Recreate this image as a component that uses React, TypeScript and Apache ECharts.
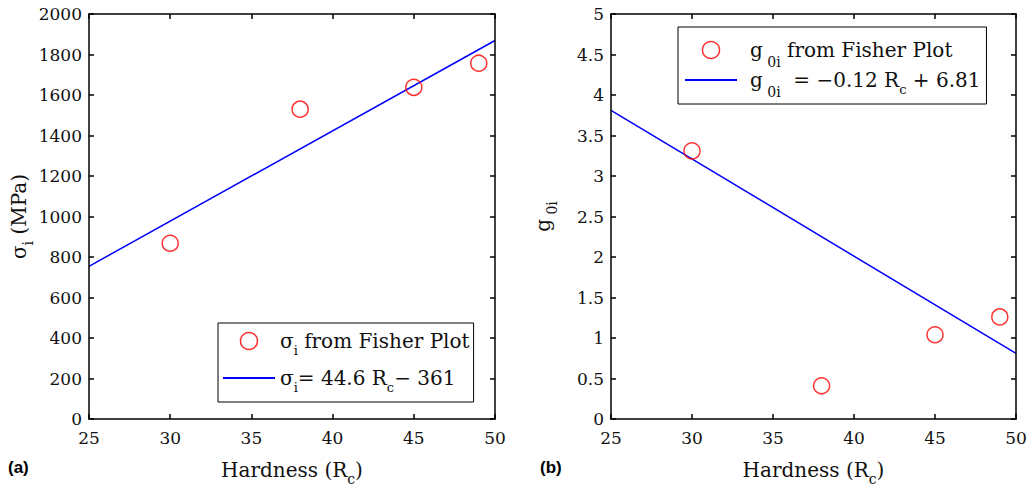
import React, { useEffect, useRef } from "react";
import * as echarts from "echarts";

const hardness = [30, 38, 45, 49];
const sigmaI = [868, 1530, 1638, 1757];
const g0i = [3.31, 0.41, 1.04, 1.26];
const fitX = [25, 50];
const sigmaFit = [754, 1869];
const gFit = [3.81, 0.81];

const FONT = "DejaVu Serif";

const rich = {
  n: { fontFamily: FONT, fontSize: 20, lineHeight: 26, color: "#111", verticalAlign: "middle" as const },
  g: { fontFamily: FONT, fontSize: 20, lineHeight: 26, color: "#111", verticalAlign: "middle" as const, padding: [0, 0, 0, 8] },
  s: { fontFamily: FONT, fontSize: 13, lineHeight: 13, color: "#111", verticalAlign: "bottom" as const, padding: [0, 0, -3, 0] },
  s2: { fontFamily: FONT, fontSize: 14, lineHeight: 13, color: "#111", verticalAlign: "bottom" as const, padding: [0, 0, -6, 0] },
};
const richName = {
  n: { ...rich.n, fontSize: 20 },
  s: { ...rich.s, fontSize: 14 },
};

const legendNames: Record<string, string> = {
  sigmaPts: "{n|σ}{s|i}{n| from Fisher Plot}",
  sigmaFit: "{n|σ}{s|i}{n|= 44.6 R}{s|c}{n|− 361}",
  gPts: "{g|g}{s2| 0i}{n| from Fisher Plot}",
  gFit: "{g|g}{s2| 0i}{n|  = −0.12 R}{s|c}{n| + 6.81}",
};

function App() {
  const ref = useRef<HTMLDivElement>(null);
  useEffect(() => {
    if (!ref.current) return;
    const chart = echarts.init(ref.current, null, { renderer: "svg" });
    const lineStyle = () => ({ color: "#000", width: 1.5 });
    const labelStyle = { fontFamily: FONT, fontSize: 17, color: "#111" };
    const mkX = (gridIndex: number, pos: "bottom" | "top") => ({
      type: "value" as const,
      gridIndex,
      position: pos,
      min: 25,
      max: 50,
      interval: 5,
      splitLine: { show: false },
      axisLine: { show: true, onZero: false, lineStyle: lineStyle() },
      axisTick: { show: true, inside: true, length: 5, lineStyle: lineStyle() },
      axisLabel: pos === "bottom" ? { show: true, ...labelStyle, margin: 10 } : { show: false },
      name: pos === "bottom" ? "{n|Hardness (R}{s|c}{n|)}" : undefined,
      nameLocation: "middle" as const,
      nameGap: 38,
      nameTextStyle: { rich: richName },
      z: 10,
    });
    const mkY = (gridIndex: number, pos: "left" | "right", max: number, interval: number, name?: string, nameGap = 0) => ({
      type: "value" as const,
      gridIndex,
      position: pos,
      min: 0,
      max,
      interval,
      splitLine: { show: false },
      axisLine: { show: true, onZero: false, lineStyle: lineStyle() },
      axisTick: { show: true, inside: true, length: 5, lineStyle: lineStyle() },
      axisLabel: pos === "left" ? { show: true, ...labelStyle, margin: 7, formatter: (v: number) => String(v) } : { show: false },
      name,
      nameLocation: "middle" as const,
      nameGap,
      nameTextStyle: { rich: richName },
      z: 10,
    });
    const pts = (xs: number[], ys: number[]) => xs.map((x, i) => [x, ys[i]]);
    const scatterStyle = { color: "transparent", borderColor: "#ff0000", borderWidth: 1.5 };
    const legendBase = {
      orient: "vertical" as const,
      itemWidth: 52,
      itemHeight: 17,
      borderColor: "#000",
      borderWidth: 1,
      backgroundColor: "#fff",
      formatter: (n: string) => legendNames[n],
      textStyle: { rich },
    };
    const gridBase = { show: false, outerBoundsMode: "none" };
    chart.setOption({
      animation: false,
      grid: [
        { ...gridBase, left: 89, top: 14, width: 406, height: 405 },
        { ...gridBase, left: 611, top: 14, width: 405, height: 405 },
      ],
      xAxis: [mkX(0, "bottom"), mkX(0, "top"), mkX(1, "bottom"), mkX(1, "top")],
      yAxis: [
        mkY(0, "left", 2000, 200, "{n|σ}{s|i}{n| (MPa)}", 57),
        mkY(0, "right", 2000, 200),
        mkY(1, "left", 5, 0.5, "{n|g}{s| 0i}", 55),
        mkY(1, "right", 5, 0.5),
      ],
      legend: [
        {
          ...legendBase,
          data: [
            { name: "sigmaPts", icon: "circle", itemStyle: scatterStyle },
            { name: "sigmaFit", itemStyle: { opacity: 0 } },
          ],
          left: 218,
          top: 323,
          padding: [8, 4, 8, 4],
          itemGap: 11,
        },
        {
          ...legendBase,
          data: [
            { name: "gPts", icon: "circle", itemStyle: scatterStyle },
            { name: "gFit", itemStyle: { opacity: 0 } },
          ],
          left: 678,
          top: 27,
          padding: [13, 6, 5, 6],
          itemGap: 1,
        },
      ],
      graphic: [
        { type: "text", left: 8, top: 459, style: { text: "(a)", font: "bold 17px Liberation Sans", fill: "#000" } },
        { type: "text", left: 540, top: 459, style: { text: "(b)", font: "bold 17px Liberation Sans", fill: "#000" } },
      ],
      series: [
        {
          name: "sigmaFit",
          type: "line",
          xAxisIndex: 0,
          yAxisIndex: 0,
          data: pts(fitX, sigmaFit),
          showSymbol: false,
          lineStyle: { color: "#0000ff", width: 1.5 },
          itemStyle: { color: "#0000ff" },
          z: 2,
        },
        {
          name: "sigmaPts",
          type: "scatter",
          xAxisIndex: 0,
          yAxisIndex: 0,
          data: pts(hardness, sigmaI),
          symbol: "circle",
          symbolSize: 16,
          itemStyle: scatterStyle,
          z: 3,
        },
        {
          name: "gFit",
          type: "line",
          xAxisIndex: 2,
          yAxisIndex: 2,
          data: pts(fitX, gFit),
          showSymbol: false,
          lineStyle: { color: "#0000ff", width: 1.5 },
          itemStyle: { color: "#0000ff" },
          z: 2,
        },
        {
          name: "gPts",
          type: "scatter",
          xAxisIndex: 2,
          yAxisIndex: 2,
          data: pts(hardness, g0i),
          symbol: "circle",
          symbolSize: 16,
          itemStyle: scatterStyle,
          z: 3,
        },
      ],
    });
    return () => chart.dispose();
  }, []);
  return <div ref={ref} style={{ position: "fixed", left: 0, top: 0, width: 1035, height: 487, background: "#fff" }} />;
}

export default App;
